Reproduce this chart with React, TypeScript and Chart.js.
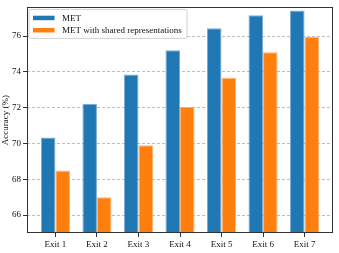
import { useEffect, useRef } from 'react';
import { Chart, registerables } from 'chart.js';

Chart.register(...registerables);

const categories = ['Exit 1', 'Exit 2', 'Exit 3', 'Exit 4', 'Exit 5', 'Exit 6', 'Exit 7'];
const seriesLabels = ['MET', 'MET with shared representations'];
const metValues = [70.33, 72.22, 73.85, 75.2, 76.44, 77.16, 77.42];
const sharedValues = [68.49, 67.0, 69.9, 72.04, 73.67, 75.09, 75.95];
const yTickValues = [66, 68, 70, 72, 74, 76];
const yAxisTitle = 'Accuracy (%)';

const FONT = { family: '"Liberation Serif", "Times New Roman", serif', size: 9 };
const TEXT = '#111111';

const framePlugin = {
  id: 'frame',
  afterDatasetsDraw(chart: any) {
    const { ctx, chartArea } = chart;
    const l = Math.round(chartArea.left) + 0.5;
    const t = Math.round(chartArea.top) + 0.5;
    const r = Math.round(chartArea.right) - 0.5;
    const b = Math.round(chartArea.bottom) - 0.5;
    ctx.save();
    ctx.strokeStyle = '#333333';
    ctx.lineWidth = 1;
    ctx.strokeRect(l, t, r - l, b - t);
    ctx.restore();
  },
};

const legendPlugin = {
  id: 'innerLegend',
  afterDraw(chart: any) {
    const { ctx, chartArea } = chart;
    const x0 = chartArea.left + 2;
    const y0 = chartArea.top + 2;
    const w = 158;
    const h = 29;
    const rad = 2;
    ctx.save();
    ctx.beginPath();
    ctx.moveTo(x0 + rad, y0);
    ctx.lineTo(x0 + w - rad, y0);
    ctx.arcTo(x0 + w, y0, x0 + w, y0 + rad, rad);
    ctx.lineTo(x0 + w, y0 + h - rad);
    ctx.arcTo(x0 + w, y0 + h, x0 + w - rad, y0 + h, rad);
    ctx.lineTo(x0 + rad, y0 + h);
    ctx.arcTo(x0, y0 + h, x0, y0 + h - rad, rad);
    ctx.lineTo(x0, y0 + rad);
    ctx.arcTo(x0, y0, x0 + rad, y0, rad);
    ctx.closePath();
    ctx.fillStyle = 'rgba(255,255,255,0.9)';
    ctx.fill();
    ctx.strokeStyle = '#d0d0d0';
    ctx.lineWidth = 1;
    ctx.stroke();
    ctx.font = `${FONT.size}px ${FONT.family}`;
    ctx.textBaseline = 'middle';
    ctx.textAlign = 'left';
    chart.data.datasets.forEach((ds: any, i: number) => {
      const cy = y0 + 8.5 + i * 12.3;
      ctx.fillStyle = ds.backgroundColor;
      ctx.fillRect(x0 + 4, cy - 2.2, 21.5, 4.5);
      ctx.fillStyle = TEXT;
      ctx.fillText(ds.label, x0 + 33, cy + 0.5);
    });
    ctx.restore();
  },
};

export default function App() {
  const ref = useRef<HTMLCanvasElement | null>(null);

  useEffect(() => {
    if (!ref.current) return;
    const chart = new Chart(ref.current, {
      type: 'bar',
      data: {
        datasets: [
          {
            label: seriesLabels[0],
            data: metValues.map((v, i) => ({ x: i, y: v })),
            backgroundColor: '#1f77b4',
            borderColor: 'rgba(90,150,200,0.8)',
            borderWidth: { top: 1, left: 1, right: 1, bottom: 0 },
            categoryPercentage: 0.7,
            barPercentage: 1,
          },
          {
            label: seriesLabels[1],
            data: sharedValues.map((v, i) => ({ x: i, y: v })),
            backgroundColor: '#ff7f0e',
            borderColor: 'rgba(255,160,80,0.8)',
            borderWidth: { top: 1, left: 1, right: 1, bottom: 0 },
            categoryPercentage: 0.7,
            barPercentage: 1,
          },
        ],
      },
      options: {
        responsive: false,
        animation: false,
        layout: { padding: { top: 3, right: 6, left: 0, bottom: 0 } },
        plugins: {
          legend: { display: false },
          tooltip: { enabled: false },
        },
        scales: {
          x: {
            type: 'linear',
            min: -0.685,
            max: 6.685,
            offset: false,
            afterBuildTicks: (s: any) => {
              s.ticks = categories.map((_, i) => ({ value: i }));
            },
            afterFit: (s: any) => {
              s.height = 20;
            },
            ticks: {
              callback: (v: any) => categories[v as number] ?? '',
              font: FONT,
              color: TEXT,
              padding: 2,
              maxRotation: 0,
              autoSkip: false,
            },
            grid: {
              offset: false,
              drawOnChartArea: false,
              drawTicks: true,
              tickLength: 4,
              tickColor: '#333333',
              tickWidth: 1,
            },
            border: { display: false },
          },
          y: {
            type: 'linear',
            min: 65,
            max: 77.6,
            afterBuildTicks: (s: any) => {
              s.ticks = yTickValues.map((v) => ({ value: v }));
            },
            afterFit: (s: any) => {
              s.width = 27;
            },
            ticks: {
              font: FONT,
              color: TEXT,
              padding: 2,
            },
            grid: {
              color: '#bdbdbd',
              lineWidth: 1,
              drawTicks: true,
              tickLength: 4,
              tickColor: '#333333',
              tickWidth: 1,
              tickBorderDash: [],
            },
            border: { display: false, dash: [3, 2] },
            title: {
              display: true,
              text: yAxisTitle,
              font: FONT,
              color: TEXT,
              padding: 0,
            },
          },
        },
      },
      plugins: [framePlugin, legendPlugin],
    });
    return () => chart.destroy();
  }, []);

  return (
    <div style={{ position: 'absolute', left: 0, top: 0, width: 339, height: 253, background: '#fff' }}>
      <canvas ref={ref} width={339} height={253} />
    </div>
  );
}
